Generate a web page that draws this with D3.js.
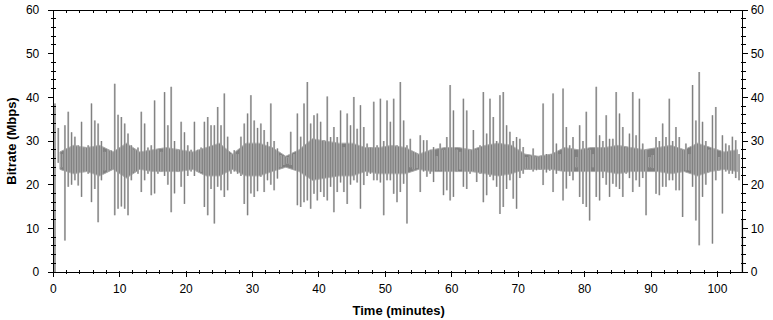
<!DOCTYPE html>
<html>
<head>
<meta charset="utf-8">
<script src="https://cdn.jsdelivr.net/npm/d3@7"></script>
<style>
  body { margin: 0; background: #fff; }
  svg text { font-family: "Liberation Sans", Arial, sans-serif; fill: #000; }
</style>
</head>
<body>
<div id="chart"></div>
<script>
// bitrate envelope per half minute: lowest and highest value seen in each bin
const binMinutes = 0.5

const bitrateLow = [
  0, 25, 24, 7.2, 19.5, 20, 21, 19.8, 17.2, 23,
  22.5, 16, 19, 11.4, 21, 23.3, 23, 23.5, 13, 14.5,
  15, 14.5, 13, 21, 23, 22.5, 18.3, 21, 22.5, 17.6,
  18, 22.5, 23, 22, 20, 13.7, 18, 23, 19.5, 15.6,
  22, 23, 22, 23, 23, 14.9, 13, 19, 11.1, 19.5,
  18.7, 17.2, 18.7, 22.5, 23, 22.5, 22, 15.6, 13, 18,
  17.2, 18.5, 21.8, 18.3, 21, 20, 18.7, 21.4, 24, 24.5,
  24.8, 24.5, 23.5, 15.3, 14.9, 16, 16.4, 14.5, 17.9, 16.4,
  18.3, 17.2, 16.4, 19.5, 13.7, 18.3, 20.5, 18.3, 15.6, 20,
  21, 20.5, 14.5, 19.9, 22, 22.5, 21, 21, 20.5, 13,
  21, 21, 17.9, 16, 18.3, 20.2, 11.1, 24, 23.5, 23.8,
  18.3, 23, 21.8, 22.5, 20.6, 23.3, 23.3, 17.6, 18.7, 16.4,
  17.2, 23, 23.5, 19.5, 19, 22.5, 23, 20.6, 22.5, 16,
  17.6, 21.8, 21, 19.5, 13.3, 14.9, 19, 21, 16.8, 14.5,
  21.5, 22.5, 23.7, 23.5, 23, 23.3, 23.5, 19.9, 22.8, 23.2,
  18.3, 22.5, 23.3, 16.4, 19.1, 22, 21, 24, 17.2, 15.6,
  14.9, 11.8, 24, 17.2, 16.4, 21.5, 20, 17.2, 20.2, 19.5,
  19, 17.2, 22.5, 21.5, 18.3, 21, 19.5, 21.5, 13, 24,
  23.8, 17.9, 17.6, 19.5, 19.5, 21, 21, 18.7, 18.7, 12.6,
  23.3, 23.3, 19.5, 11.8, 6.1, 17.2, 20, 23, 6.5, 21,
  23.3, 13.4, 23, 22.5, 22.5, 21.5, 21, 0
]

const bitrateHigh = [
  38.6, 33, 27, 33.6, 36.7, 32, 31, 29, 34.4, 28.5,
  29, 38.6, 34.7, 34, 30, 27.5, 28, 27.8, 43.1, 36,
  35.5, 34, 31.7, 29, 28, 28.5, 36.7, 34, 28.5, 29,
  39.3, 28, 27.5, 41.2, 33.6, 42.4, 30, 28, 34.4, 32,
  29, 28, 34.4, 28, 28.5, 34.4, 35.5, 33.6, 33.6, 37.8,
  33.6, 40.9, 31, 27, 27.9, 27, 31, 34, 36.3, 40.5,
  34.7, 33, 34, 32.5, 29.8, 38.6, 30, 28.3, 26.7, 26.5,
  26.3, 32.1, 27, 36.3, 31, 38.6, 43.5, 34, 35.9, 36.3,
  34.4, 30.2, 40.2, 30.9, 33.2, 30.9, 37, 28.6, 36.3, 33.6,
  40.1, 32.8, 38.2, 33.2, 29.4, 28.5, 39, 29, 39.7, 30,
  39.3, 34.4, 39.7, 29, 43.5, 34.7, 29, 30.5, 27.5, 27.2,
  31.3, 30.2, 30.2, 28, 28.6, 26.5, 29.4, 28, 30.9, 42.8,
  37, 28, 27.5, 39.7, 37, 28, 32.5, 28, 29, 41.2,
  31.7, 39.7, 35.5, 30, 40.5, 41.2, 33.6, 32.1, 30, 30.9,
  30.5, 28.6, 26.3, 26.5, 28.3, 26.3, 26.5, 38.6, 27, 26.8,
  40.9, 29.4, 27, 42, 33.2, 29, 30.9, 26.3, 33.6, 30,
  36.7, 28, 27, 42.4, 31.3, 30, 35.9, 30.5, 30.5, 41.2,
  36.3, 33.2, 28.5, 31.7, 41.2, 31.3, 39.7, 29.4, 28, 26.3,
  26.8, 30.9, 30, 34, 30.9, 39.7, 30, 33.2, 30.9, 28,
  29.4, 27, 42.8, 34.7, 45.8, 34.4, 30, 28, 35.9, 37.8,
  26.3, 31.3, 29.4, 29, 31, 30.2, 27, 12
]

// dense core of the trace, per two minutes
const coreMinutes = 2
const coreLow = [
  23.5, 22.5, 23, 22, 23.5, 21.5, 23.5, 23, 23, 23,
  23.5, 22, 22, 23.5, 22, 22, 23, 24, 23, 21,
  21.5, 22, 22, 23, 22.5, 22.5, 22.5, 23.5, 23, 23,
  23, 23, 22.5, 22, 22.5, 23.5, 23.5, 23.5, 23, 23,
  23, 23, 22.5, 23, 23, 23, 22.5, 23, 22, 23,
  23.5, 23
]
const coreHigh = [
  27.5, 29, 28.5, 29, 27.5, 29.5, 27.5, 28, 28.5, 28,
  27.5, 28.5, 29.5, 27, 29.5, 29.5, 28.5, 26.5, 28, 30.5,
  30, 29.5, 29.5, 28.5, 28.5, 29, 28.5, 27, 28, 28.5,
  28.5, 28, 29, 29.5, 29, 27, 26.5, 27, 28.5, 28,
  28.5, 28.5, 29, 28.5, 28, 28.5, 29, 28, 29.5, 28.5,
  27.5, 28
]

const timeTicks = [0, 10, 20, 30, 40, 50, 60, 70, 80, 90, 100]
const rateTicks = [0, 10, 20, 30, 40, 50, 60]

const W = 773, H = 320
const margin = { top: 10, right: 30.3, bottom: 48, left: 53.3 }
const width = W - margin.left - margin.right
const height = H - margin.top - margin.bottom

const x = d3.scaleLinear().domain([0, 103.8]).range([0, width])
const y = d3.scaleLinear().domain([0, 60]).range([height, 0])

const svg = d3.select('#chart').append('svg')
  .attr('width', W)
  .attr('height', H)

const g = svg.append('g')
  .attr('transform', `translate(${margin.left},${margin.top})`)

const trace = g.append('g')

// core band
const core = coreLow.map((lo, i) => ({ t: i * coreMinutes + coreMinutes / 2, lo: lo, hi: coreHigh[i] }))
const coreArea = d3.area()
  .x(d => x(d.t))
  .y0(d => y(d.lo))
  .y1(d => y(d.hi))

trace.append('path')
  .datum(core)
  .attr('fill', '#808080')
  .attr('stroke', '#a8a8a8')
  .attr('stroke-width', 1)
  .attr('d', coreArea)

// spikes: one vertical stroke per bin from low to high
const bins = bitrateLow.map((lo, i) => ({ t: i * binMinutes + binMinutes / 2, lo: lo, hi: bitrateHigh[i] }))

trace.selectAll('.spike-halo')
  .data(bins)
  .enter().append('line')
  .attr('class', 'spike-halo')
  .attr('x1', d => x(d.t)).attr('x2', d => x(d.t))
  .attr('y1', d => y(d.lo)).attr('y2', d => y(d.hi))
  .attr('stroke', '#c8c8c8')
  .attr('stroke-width', 2)

trace.selectAll('.spike')
  .data(bins)
  .enter().append('line')
  .attr('class', 'spike')
  .attr('x1', d => x(d.t)).attr('x2', d => x(d.t))
  .attr('y1', d => y(d.lo)).attr('y2', d => y(d.hi))
  .attr('stroke', '#808080')
  .attr('stroke-width', 1.1)

// minor tick positions
const minorX = d3.range(0, 104, 2).filter(v => v % 10 !== 0)
const minorY = d3.range(0, 61, 2).filter(v => v % 10 !== 0)

const frame = g.append('g')
  .attr('stroke', '#000')
  .attr('stroke-width', 1)
  .attr('shape-rendering', 'crispEdges')

frame.append('rect')
  .attr('x', 0).attr('y', 0)
  .attr('width', width).attr('height', height)
  .attr('fill', 'none')

// bottom ticks
frame.selectAll('.xmaj').data(timeTicks).enter().append('line')
  .attr('x1', d => x(d)).attr('x2', d => x(d))
  .attr('y1', height - 1).attr('y2', height + 5)
frame.selectAll('.xmin').data(minorX).enter().append('line')
  .attr('x1', d => x(d)).attr('x2', d => x(d))
  .attr('y1', height - 2).attr('y2', height + 2)
// top ticks point inward
frame.selectAll('.xtop').data(minorX.concat(timeTicks)).enter().append('line')
  .attr('x1', d => x(d)).attr('x2', d => x(d))
  .attr('y1', 0).attr('y2', 3)

// left and right ticks
;[0, width].forEach((ax, side) => {
  const dir = side === 0 ? -1 : 1
  frame.selectAll(null).data(rateTicks).enter().append('line')
    .attr('x1', ax).attr('x2', ax + dir * 5)
    .attr('y1', d => y(d)).attr('y2', d => y(d))
  frame.selectAll(null).data(minorY).enter().append('line')
    .attr('x1', ax - 2).attr('x2', ax + 3)
    .attr('y1', d => y(d)).attr('y2', d => y(d))
})

// labels
g.selectAll('.xl').data(timeTicks).enter().append('text')
  .attr('x', d => x(d))
  .attr('y', height + 21)
  .attr('text-anchor', 'middle')
  .style('font-size', '12px')
  .text(d => d)

g.selectAll('.yl').data(rateTicks).enter().append('text')
  .attr('x', -14)
  .attr('y', d => y(d))
  .attr('dy', '0.35em')
  .attr('text-anchor', 'end')
  .style('font-size', '12px')
  .text(d => d)

g.selectAll('.yr').data(rateTicks).enter().append('text')
  .attr('x', width + 8)
  .attr('y', d => y(d))
  .attr('dy', '0.35em')
  .attr('text-anchor', 'start')
  .style('font-size', '12px')
  .text(d => d)

svg.append('text')
  .attr('x', margin.left + x(52))
  .attr('y', 315)
  .attr('text-anchor', 'middle')
  .style('font-size', '13px')
  .style('font-weight', 'bold')
  .text('Time (minutes)')

svg.append('text')
  .attr('transform', 'translate(16,141) rotate(-90)')
  .attr('text-anchor', 'middle')
  .style('font-size', '13px')
  .style('font-weight', 'bold')
  .text('Bitrate (Mbps)')
</script>
</body>
</html>
